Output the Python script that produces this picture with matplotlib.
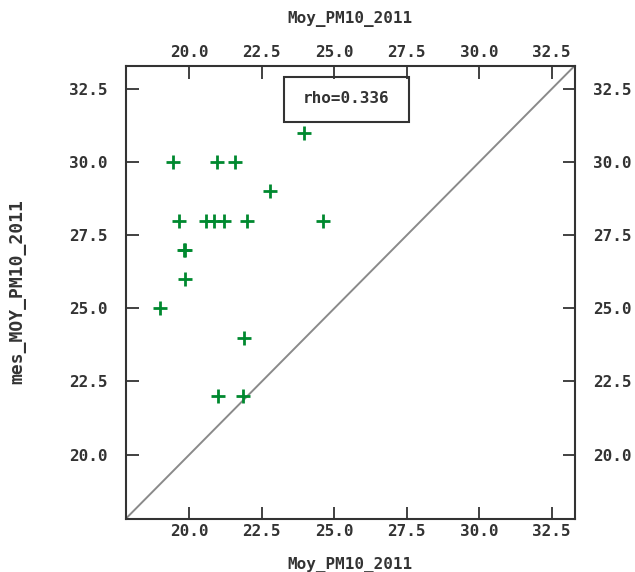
import matplotlib
matplotlib.use("Agg")
import matplotlib.pyplot as plt
from matplotlib.patches import Rectangle

# data
moy_pm10 = [23.97, 19.42, 20.95, 21.56, 22.77, 19.65, 20.58, 20.86, 21.20,
            21.97, 24.61, 19.80, 19.86, 19.86, 19.00, 21.90, 20.99, 21.84]
mes_pm10 = [31, 30, 30, 30, 29, 28, 28, 28, 28,
            28, 28, 27, 27, 26, 25, 24, 22, 22]
ticks = [20.0, 22.5, 25.0, 27.5, 30.0, 32.5]
lims = (17.8, 33.3)
rho_text = "rho=0.336"

font = "DejaVu Sans Mono"
txt = dict(family=font, fontweight="bold", fontsize=11.5, color="#333333")

fig = plt.figure(figsize=(6.35, 5.72), dpi=100)
ax = fig.add_axes([0.198, 0.093, 0.707, 0.792])

ax.plot(lims, lims, color="#8a8a8a", linewidth=1.4, zorder=1)
ax.scatter(moy_pm10, mes_pm10, marker="+", s=90, linewidths=2,
           color="#00892f", zorder=3)

ax.set_xlim(lims)
ax.set_ylim(lims)
ax.set_xticks(ticks)
ax.set_yticks(ticks)
labels = [f"{t:.1f}" for t in ticks]
ax.set_xticklabels(labels)
ax.set_yticklabels(labels)
ax.tick_params(direction="in", length=9, width=1.3, color="#333333",
               top=True, right=True, labeltop=True, labelright=True)
ax.tick_params(axis="x", pad=4)
ax.tick_params(axis="y", pad=13)
for t in ax.xaxis.get_major_ticks() + ax.yaxis.get_major_ticks():
    t.label1.set(**txt)
    t.label2.set(**txt)
for side in ax.spines.values():
    side.set_linewidth(1.5)
    side.set_color("#333333")

ax.set_xlabel("Moy_PM10_2011", labelpad=13, **txt)
ax.text(0.5, 1.0, "Moy_PM10_2011", transform=ax.transAxes,
        ha="center", va="bottom", **txt).set_y(1.085)
fig.text(0.027, 0.49, "mes_MOY_PM10_2011", rotation=90, ha="center",
         va="center", family=font, fontweight="bold", fontsize=13,
         color="#333333")

# rho box
ax.add_patch(Rectangle((0.352, 0.877), 0.278, 0.099, transform=ax.transAxes,
                       fill=False, edgecolor="#333333", linewidth=1.5,
                       zorder=4))
ax.text(0.491, 0.927, rho_text, transform=ax.transAxes, ha="center",
        va="center", **txt)

fig.savefig("out.png", dpi=100)
